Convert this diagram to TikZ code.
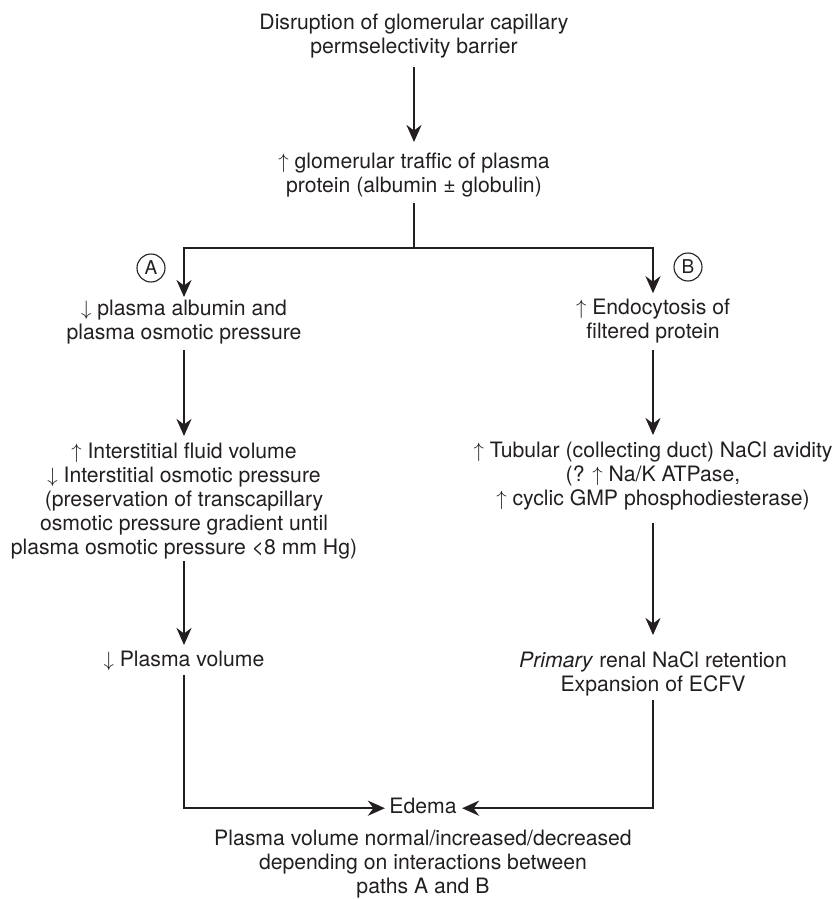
\documentclass[tikz,border=0pt]{standalone}
\usepackage{fontspec}
\setmainfont{TeX Gyre Heros}
\usetikzlibrary{arrows.meta}
\definecolor{ink}{RGB}{35,31,32}
\begin{document}
\begin{tikzpicture}[x=1pt,y=-1pt,
  txt/.style={inner sep=0pt, outer sep=0pt, anchor=base, text=ink,
    font=\fontsize{21.2}{24}\selectfont},
  conn/.style={line width=2.3pt, draw=ink},
  arr/.style={conn, -{Stealth[length=17pt,width=15pt,inset=5.5pt]}},
  lab/.style={circle, draw=ink, text=ink, line width=1.1pt, minimum size=28pt,
    inner sep=0pt, font=\fontsize{19}{19}\selectfont}]
\useasboundingbox (0,0) rectangle (836,899);

% nodes
\node[txt] (top) at (414,30) {\begin{tabular}[t]{@{}c@{}}Disruption of glomerular capillary\\permselectivity barrier\end{tabular}};
\node[txt] (traffic) at (414,168) {\begin{tabular}[t]{@{}c@{}}$\uparrow$ glomerular traffic of plasma\\protein (albumin ± globulin)\end{tabular}};

\node[txt] (lA1) at (184,315) {\begin{tabular}[t]{@{}c@{}}$\downarrow$ plasma albumin and\\plasma osmotic pressure\end{tabular}};
\node[txt] (lA2) at (184,458) {\begin{tabular}[t]{@{}c@{}}$\uparrow$ Interstitial fluid volume\\$\downarrow$ Interstitial osmotic pressure\\(preservation of transcapillary\\osmotic pressure gradient until\\plasma osmotic pressure <8 mm Hg)\end{tabular}};
\node[txt] (lA3) at (184,666) {\begin{tabular}[t]{@{}c@{}}$\downarrow$ Plasma volume\end{tabular}};

\node[txt] (rB1) at (653,314) {\begin{tabular}[t]{@{}c@{}}$\uparrow$ Endocytosis of\\filtered protein\end{tabular}};
\node[txt] (rB2) at (653,457) {\begin{tabular}[t]{@{}c@{}}$\uparrow$ Tubular (collecting duct) NaCl avidity\\(? $\uparrow$ Na/K ATPase,\\$\uparrow$ cyclic GMP phosphodiesterase)\end{tabular}};
\node[txt] (rB3) at (653,667) {\begin{tabular}[t]{@{}c@{}}\textit{Primary} renal NaCl retention\\Expansion of ECFV\end{tabular}};

\node[txt] (edema) at (423,813) {\begin{tabular}[t]{@{}c@{}}Edema\end{tabular}};
\node[txt] (note) at (423,845) {\begin{tabular}[t]{@{}c@{}}Plasma volume normal/increased/decreased\\depending on interactions between\\paths A and B\end{tabular}};

\node[lab] (cA) at (151,268) {A};
\node[lab] (cB) at (688,267) {B};

\coordinate (split) at (414,248);

% connectors
\draw[arr, shorten <=5.8pt, shorten >=9.2pt] (top.south) -- (traffic.north);
\draw[conn, shorten <=3.8pt] (traffic.south) -- (split);
\draw[arr, shorten >=1.2pt] (split) -| (lA1.north);
\draw[arr, shorten >=4pt] (split) -| (rB1.north);

\draw[arr, shorten <=3.8pt, shorten >=5.2pt] (lA1.south) -- (lA2.north);
\draw[arr, shorten >=4.2pt] (lA2.south) -- (lA3.north);
\draw[arr, shorten <=1.8pt, shorten >=4.5pt] (lA3.south) |- (edema.west);

\draw[arr, shorten <=4.8pt, shorten >=5.2pt] (rB1.south) -- (rB2.north);
\draw[arr, shorten <=10.8pt, shorten >=15.2pt] (rB2.south) -- (rB3.north);
\draw[arr, shorten <=1.8pt, shorten >=5.5pt] (rB3.south) |- (edema.east);
\end{tikzpicture}
\end{document}
